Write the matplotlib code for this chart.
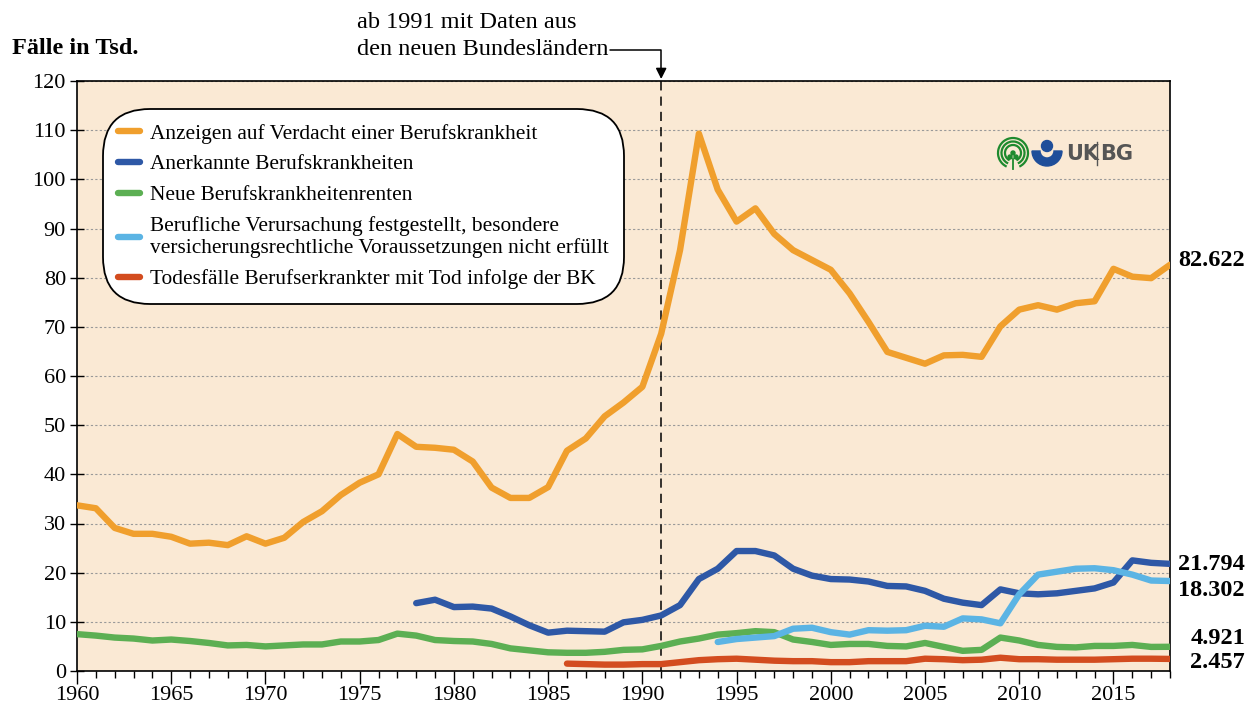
import matplotlib.pyplot as plt
from matplotlib.patches import Wedge, Circle, Arc

plt.rcParams['font.family'] = ['Liberation Serif', 'DejaVu Serif']

# Fälle in Tsd.
years = list(range(1960, 2019))

anzeigen = [33.7, 33.1, 29.1, 27.9, 27.9, 27.3, 25.9, 26.1, 25.6, 27.4,
            25.9, 27.1, 30.3, 32.5, 35.8, 38.3, 40.0, 48.2, 45.6, 45.4,
            45.0, 42.6, 37.3, 35.2, 35.2, 37.4, 44.8, 47.3, 51.8, 54.6,
            57.8, 68.6, 85.6, 109.3, 97.9, 91.4, 94.1, 88.9, 85.6, 83.6,
            81.6, 76.8, 71.0, 64.9, 63.7, 62.5, 64.2, 64.3, 63.9, 70.1,
            73.5, 74.4, 73.5, 74.8, 75.2, 81.8, 80.2, 79.9, 82.622]

anerkannt_years = list(range(1978, 2019))
anerkannt = [13.8, 14.5, 13.0, 13.1, 12.7, 11.1, 9.3, 7.8, 8.2, 8.1,
             8.0, 9.9, 10.4, 11.3, 13.4, 18.7, 20.8, 24.4, 24.4, 23.5,
             20.8, 19.4, 18.7, 18.6, 18.2, 17.3, 17.2, 16.3, 14.7, 13.9,
             13.4, 16.6, 15.8, 15.6, 15.8, 16.3, 16.8, 18.0, 22.5, 22.0,
             21.794]

renten = [7.5, 7.2, 6.8, 6.6, 6.2, 6.4, 6.1, 5.7, 5.2, 5.3,
          5.0, 5.2, 5.4, 5.4, 6.0, 6.0, 6.3, 7.6, 7.2, 6.3,
          6.1, 6.0, 5.5, 4.6, 4.2, 3.8, 3.7, 3.7, 3.9, 4.3,
          4.4, 5.1, 6.0, 6.6, 7.4, 7.7, 8.1, 7.9, 6.4, 5.9,
          5.3, 5.5, 5.5, 5.1, 5.0, 5.7, 4.9, 4.1, 4.3, 6.8,
          6.2, 5.3, 4.9, 4.8, 5.1, 5.1, 5.3, 4.9, 4.921]

verursachung_years = list(range(1994, 2019))
verursachung = [5.9, 6.5, 6.8, 7.1, 8.6, 8.8, 7.9, 7.4, 8.3, 8.2,
                8.3, 9.2, 9.0, 10.7, 10.5, 9.7, 15.6, 19.6, 20.2, 20.8,
                20.9, 20.5, 19.6, 18.4, 18.302]

tod_years = list(range(1986, 2019))
tod = [1.5, 1.4, 1.3, 1.3, 1.4, 1.4, 1.8, 2.2, 2.4, 2.5,
       2.3, 2.1, 2.0, 2.0, 1.8, 1.8, 2.0, 2.0, 2.0, 2.5,
       2.4, 2.2, 2.3, 2.7, 2.4, 2.4, 2.3, 2.3, 2.3, 2.4,
       2.5, 2.5, 2.457]

labels = ["Anzeigen auf Verdacht einer Berufskrankheit",
          "Anerkannte Berufskrankheiten",
          "Neue Berufskrankheitenrenten",
          "Berufliche Verursachung festgestellt, besondere\nversicherungsrechtliche Voraussetzungen nicht erfüllt",
          "Todesfälle Berufserkrankter mit Tod infolge der BK"]
end_labels = ["82.622", "21.794", "18.302", "4.921", "2.457"]

colors = ["#F09F2D", "#2E58A6", "#5CAF53", "#5BB4E4", "#D34C1F"]

W, H = 1247, 709
fig = plt.figure(figsize=(W / 100, H / 100), dpi=100)
ax = fig.add_axes([77 / W, 38 / H, (1170 - 77) / W, (671 - 81) / H])
ax.set_facecolor("#FAE9D4")

lw = 4.6
ax.plot(years, anzeigen, color=colors[0], lw=lw, label=labels[0], solid_capstyle='round', zorder=3)
ax.plot(anerkannt_years, anerkannt, color=colors[1], lw=lw, label=labels[1], solid_capstyle='round', zorder=3)
ax.plot(years, renten, color=colors[2], lw=lw, label=labels[2], solid_capstyle='round', zorder=3)
ax.plot(verursachung_years, verursachung, color=colors[3], lw=lw, label=labels[3], solid_capstyle='round', zorder=3)
ax.plot(tod_years, tod, color=colors[4], lw=lw, label=labels[4], solid_capstyle='round', zorder=3)

ax.set_xlim(1960, 2018)
ax.set_ylim(0, 120)
ax.set_xticks(range(1960, 2016, 5))
ax.set_xticks(range(1960, 2019), minor=True)
ax.set_yticks(range(0, 121, 10))
ax.tick_params(axis='x', which='major', direction='out', length=9, width=1, labelsize=16, pad=2)
ax.tick_params(axis='x', which='minor', direction='out', length=5, width=1)
ax.tick_params(axis='y', direction='inout', length=10, width=1, labelsize=16, pad=3)
ax.yaxis.grid(True, linestyle=(0, (2, 2)), color='#999999', lw=0.8)
ax.set_axisbelow(True)
for s in ax.spines.values():
    s.set_linewidth(1.2)

# Grenze 1991
ax.axvline(1991, color='black', lw=1.1, ls=(0, (6, 4)), zorder=2)
ax.annotate('', xy=(1991, 120.4), xytext=(1988.3, 126.3),
            arrowprops=dict(arrowstyle='-|>', color='black', lw=1.1,
                            mutation_scale=16, shrinkA=0, shrinkB=0,
                            connectionstyle='angle,angleA=0,angleB=90,rad=0'),
            annotation_clip=False)
fig.text(357 / W, 1 - 36 / H, "ab 1991 mit Daten aus\nden neuen Bundesländern",
         fontsize=17.5, va='center', ha='left', linespacing=1.4)
fig.text(12 / W, 1 - 48 / H, "Fälle in Tsd.", fontsize=17.5, fontweight='bold', va='center')

leg = ax.legend(loc='upper left', bbox_to_anchor=(0.024, 0.953), fontsize=15.4,
                handlelength=1.0, handletextpad=0.5, labelspacing=0.5,
                borderpad=0.7, borderaxespad=0, frameon=True, fancybox=True, framealpha=1)
for t in leg.get_texts():
    t.set_linespacing(1.2)
frame = leg.get_frame()
frame.set_edgecolor('black')
frame.set_linewidth(1.3)
frame.set_boxstyle('round,pad=0.0,rounding_size=2.2')

# Endwerte rechts
end_y = [260, 565, 590, 638, 662]
for txt, yy in zip(end_labels, end_y):
    fig.text(1245 / W, 1 - yy / H, txt, fontsize=17.5, fontweight='bold', ha='right', va='center')

# Logo (vereinfacht)
lax = fig.add_axes([995 / W, 1 - 173 / H, 135 / W, 38 / H])
lax.set_xlim(0, 135)
lax.set_ylim(0, 38)
lax.set_aspect('equal')
lax.axis('off')
green = "#1E8A2E"
for r in (15, 11.5, 8):
    lax.add_patch(Arc((18, 20), 2 * r, 2 * r, theta1=-65, theta2=245, color=green, lw=1.6))
lax.add_patch(Circle((18, 20), 2.0, color=green))
lax.add_patch(Circle((15, 16), 2.0, color=green))
lax.add_patch(Circle((21, 16), 2.0, color=green))
lax.plot([18, 18], [4, 14], color=green, lw=1.3)
blue = "#1F4E9A"
lax.add_patch(Circle((52, 27), 5.5, color=blue))
lax.add_patch(Wedge((52, 22), 15, 180, 360, width=8, color=blue))
lax.text(71, 19, "UK", fontsize=15, fontweight='bold', color='#555555',
         family='DejaVu Sans', va='center', ha='left')
lax.plot([102, 102], [8, 31], color='#555555', lw=1)
lax.text(105, 19, "BG", fontsize=15, fontweight='bold', color='#555555',
         family='DejaVu Sans', va='center', ha='left')

plt.savefig("out.png", dpi=100)
